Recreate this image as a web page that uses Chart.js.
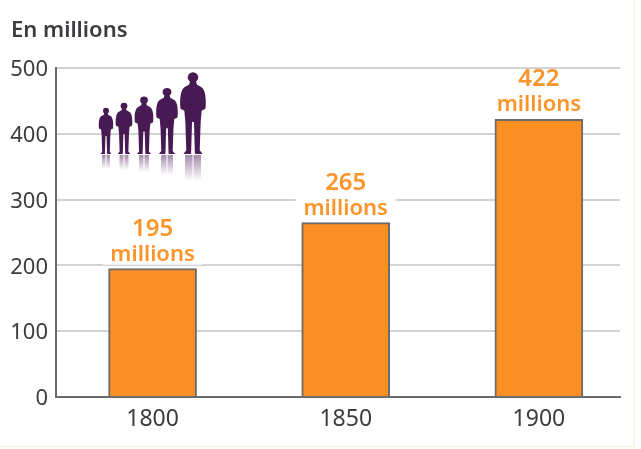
<!DOCTYPE html>
<html lang="fr">
<head>
<meta charset="UTF-8">
<title>Population en millions</title>
<script src="https://cdn.jsdelivr.net/npm/chart.js"></script>
<style>
  html, body { margin: 0; background: #fff; }
  #wrap { position: relative; width: 641px; height: 449px; overflow: hidden; }
  #frame { position: absolute; left: 0; top: 0; width: 634px; height: 446px; border-right: 1px solid #eef3d8; border-bottom: 1px solid #eef3d8; }
  canvas { position: absolute; left: 0; top: 0; }
  #people { position: absolute; left: 95px; top: 68px; }
</style>
</head>
<body>
<div id="wrap">
  <div id="frame"></div>
  <canvas id="myChart" width="641" height="449"></canvas>
  <svg id="people" width="116" height="116" viewBox="0 0 116 116">
    <defs>
      <g id="man">
        <circle cx="0" cy="-39.5" r="5.5"/>
        <path d="M-3 -36 L3 -36 L4 -32 L9 -29 C13 -26 14 -16 13 -6 L9 -4 L8 8 L7 38 L10 42 L2 42 L1 8 L-1 8 L-2 42 L-10 42 L-7 38 L-8 8 L-9 -4 L-13 -6 C-14 -16 -13 -26 -9 -29 L-4 -32 Z"/>
      </g>
      <linearGradient id="refl" x1="0" y1="0" x2="0" y2="1">
        <stop offset="0" stop-color="#471a54" stop-opacity="0.5"/>
        <stop offset="1" stop-color="#471a54" stop-opacity="0"/>
      </linearGradient>
    </defs>
    <g fill="#471a54">
      <use href="#man" transform="translate(11 63.7) scale(0.54 0.53)"/>
      <use href="#man" transform="translate(29 61.2) scale(0.62 0.59)"/>
      <use href="#man" transform="translate(49 58.3) scale(0.7 0.66)"/>
      <use href="#man" transform="translate(72 54.1) scale(0.81 0.76)"/>
      <use href="#man" transform="translate(98 46.5) scale(0.96 0.94)"/>
    </g>
    <g fill="url(#refl)">
      <rect x="7" y="87" width="3.5" height="14"/><rect x="11.5" y="87" width="3.5" height="14"/>
      <rect x="24.5" y="87" width="4" height="15"/><rect x="29.5" y="87" width="4" height="15"/>
      <rect x="44" y="87" width="4.5" height="17"/><rect x="49.5" y="87" width="4.5" height="17"/>
      <rect x="66" y="87" width="5.5" height="20"/><rect x="72.5" y="87" width="5.5" height="20"/>
      <rect x="90" y="87" width="7.5" height="26"/><rect x="98.5" y="87" width="7.5" height="26"/>
    </g>
  </svg>
</div>
<script>
const years = [1800, 1850, 1900];
const population = [195, 265, 422];
const barLabels = ['195', '265', '422'];
const unitLabel = 'millions';
const yTicks = [0, 100, 200, 300, 400, 500];
const chartTitle = 'En millions';

const fontName = '"Noto Sans", sans-serif';

// value labels above the bars and the title top left
const textPlugin = {
  id: 'textPlugin',
  afterDatasetsDraw(chart) {
    const ctx = chart.ctx;
    const bars = chart.getDatasetMeta(0).data;
    ctx.save();
    ctx.textAlign = 'center';
    ctx.textBaseline = 'alphabetic';
    bars.forEach((bar, i) => {
      // white strip so the grid line does not run through the label
      ctx.fillStyle = '#fff';
      ctx.fillRect(bar.x - 50, bar.y - 50, 100, 46);
      ctx.fillStyle = '#fb9429';
      ctx.font = '600 24px ' + fontName;
      ctx.fillText(barLabels[i], bar.x, bar.y - 33);
      ctx.font = '600 22px ' + fontName;
      ctx.fillText(unitLabel, bar.x, bar.y - 8);
    });
    ctx.fillStyle = '#3c3c40';
    ctx.font = '600 22px ' + fontName;
    ctx.textAlign = 'left';
    ctx.fillText(chartTitle, 11, 37);
    ctx.restore();
  }
};

new Chart(document.getElementById('myChart'), {
  type: 'bar',
  data: {
    datasets: [{
      data: years.map((y, i) => ({ x: y, y: population[i] })),
      backgroundColor: '#fb8f24',
      borderColor: '#6e6a66',
      borderWidth: { top: 2, left: 2, right: 2, bottom: 0 },
      borderSkipped: false,
      barThickness: 88
    }]
  },
  options: {
    responsive: false,
    animation: false,
    layout: { padding: { top: 68, right: 21, bottom: 0, left: 0 } },
    plugins: { legend: { display: false }, tooltip: { enabled: false } },
    scales: {
      x: {
        type: 'linear',
        offset: false,
        min: 1775,
        max: 1921,
        afterBuildTicks(axis) { axis.ticks = years.map(v => ({ value: v })); },
        afterFit(axis) { axis.height = 52; },
        grid: { display: false, drawTicks: false },
        border: { color: '#6b6b70', width: 2 },
        ticks: {
          autoSkip: false,
          maxRotation: 0,
          padding: 9,
          color: '#3c3c40',
          font: { family: fontName, size: 23 },
          callback: v => String(v)
        }
      },
      y: {
        min: 0,
        max: 500,
        afterBuildTicks(axis) { axis.ticks = yTicks.map(v => ({ value: v })); },
        afterFit(axis) { axis.width = 56; },
        grid: { color: '#d2d2d2', lineWidth: 2, drawTicks: false },
        border: { color: '#6b6b70', width: 2 },
        ticks: {
          padding: 8,
          labelOffset: 2,
          color: '#3c3c40',
          font: { family: fontName, size: 22 }
        }
      }
    }
  },
  plugins: [textPlugin]
});
</script>
</body>
</html>
